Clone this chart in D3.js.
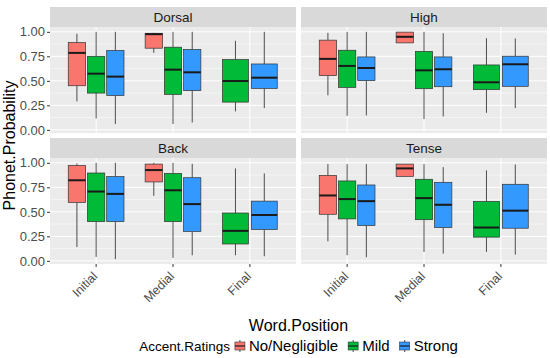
<!DOCTYPE html>
<html>
<head>
<meta charset="utf-8">
<script src="https://cdn.jsdelivr.net/npm/d3@7"></script>
<style>
  body { margin: 0; background: white; }
  svg { display: block; font-family: "Liberation Sans", Arial, sans-serif; }
</style>
</head>
<body>
<div id="main"></div>
<script>
const facets = ["Dorsal", "High", "Back", "Tense"];
const positions = ["Initial", "Medial", "Final"];
const ratings = ["No/Negligible", "Mild", "Strong"];
const colors = ["#F8766D", "#00BA38", "#3399FF"];
const yTicks = [0, 0.25, 0.5, 0.75, 1];

// [position, rating, min, q1, median, q3, max]
const dorsal = [
  ["Initial", "No/Negligible", 0.29, 0.45, 0.785, 0.89, 0.98],
  ["Initial", "Mild", 0.116, 0.375, 0.573, 0.75, 1.0],
  ["Initial", "Strong", 0.06, 0.35, 0.543, 0.81, 1.0],
  ["Medial", "No/Negligible", 0.785, 0.833, 0.976, 0.985, 0.99],
  ["Medial", "Mild", 0.06, 0.362, 0.614, 0.843, 1.0],
  ["Medial", "Strong", 0.075, 0.40, 0.587, 0.82, 1.0],
  ["Final", "Mild", 0.188, 0.283, 0.498, 0.717, 0.908],
  ["Final", "Strong", 0.222, 0.423, 0.532, 0.672, 1.0]
];
const high = [
  ["Initial", "No/Negligible", 0.352, 0.553, 0.724, 0.915, 0.99],
  ["Initial", "Mild", 0.143, 0.433, 0.652, 0.812, 1.0],
  ["Initial", "Strong", 0.147, 0.502, 0.631, 0.744, 1.0],
  ["Medial", "No/Negligible", 0.887, 0.887, 0.949, 0.997, 0.997],
  ["Medial", "Mild", 0.11, 0.42, 0.607, 0.80, 1.0],
  ["Medial", "Strong", 0.137, 0.44, 0.618, 0.744, 0.986],
  ["Final", "Mild", 0.174, 0.41, 0.485, 0.662, 0.935],
  ["Final", "Strong", 0.222, 0.444, 0.669, 0.751, 0.932]
];
const back = [
  ["Initial", "No/Negligible", 0.141, 0.596, 0.822, 0.973, 0.993],
  ["Initial", "Mild", 0.04, 0.40, 0.707, 0.896, 1.0],
  ["Initial", "Strong", 0.017, 0.40, 0.683, 0.859, 1.0],
  ["Medial", "No/Negligible", 0.663, 0.805, 0.926, 0.987, 1.0],
  ["Medial", "Mild", 0.03, 0.40, 0.72, 0.892, 1.0],
  ["Medial", "Strong", 0.057, 0.30, 0.579, 0.848, 0.99],
  ["Final", "Mild", 0.057, 0.172, 0.306, 0.488, 0.943],
  ["Final", "Strong", 0.047, 0.32, 0.468, 0.609, 0.892]
];
const tense = [
  ["Initial", "No/Negligible", 0.199, 0.475, 0.667, 0.872, 0.987],
  ["Initial", "Mild", 0.057, 0.428, 0.63, 0.815, 0.987],
  ["Initial", "Strong", 0.037, 0.36, 0.609, 0.774, 0.987],
  ["Medial", "No/Negligible", 0.862, 0.862, 0.943, 0.987, 0.987],
  ["Medial", "Mild", 0.091, 0.42, 0.64, 0.832, 0.987],
  ["Medial", "Strong", 0.074, 0.34, 0.572, 0.801, 0.956],
  ["Final", "Mild", 0.091, 0.242, 0.34, 0.606, 0.923],
  ["Final", "Strong", 0.064, 0.333, 0.512, 0.781, 0.983]
];
const facetData = [dorsal, high, back, tense];

const width = 550, height = 358;
const marginLeft = 50, marginTop = 7;
const panelW = 246, panelH = 106, stripH = 20, gap = 5;

const svg = d3.select("#main").append("svg")
  .attr("width", width).attr("height", height);

const all = facetData.flat();
const yMin = d3.min(all, d => d[2]), yMax = d3.max(all, d => d[6]);
const pad = (yMax - yMin) * 0.05;

const x = d3.scaleBand().domain(positions).range([0, panelW])
  .paddingInner(0).paddingOuter(0.1);
const y = d3.scaleLinear().domain([yMin - pad, yMax + pad]).range([panelH, 0]);
const color = d3.scaleOrdinal().domain(ratings).range(colors);

facets.forEach((name, fi) => {
  const col = fi % 2, row = Math.floor(fi / 2);
  const px = marginLeft + col * (panelW + gap);
  const py = marginTop + row * (stripH + panelH + gap) + stripH;

  // strip
  svg.append("rect").attr("x", px).attr("y", py - stripH)
    .attr("width", panelW).attr("height", stripH).attr("fill", "#d9d9d9");
  svg.append("text").attr("x", px + panelW / 2).attr("y", py - stripH / 2 + 4.5)
    .attr("text-anchor", "middle").attr("font-size", 13.5).attr("fill", "#1a1a1a")
    .text(name);

  const g = svg.append("g").attr("transform", `translate(${px},${py})`);
  g.append("rect").attr("width", panelW).attr("height", panelH).attr("fill", "#ebebeb");

  // minor grid
  const minor = d3.pairs(yTicks).map(p => (p[0] + p[1]) / 2);
  g.selectAll(".minor").data(minor).enter().append("line")
    .attr("x1", 0).attr("x2", panelW)
    .attr("y1", d => y(d)).attr("y2", d => y(d))
    .attr("stroke", "white").attr("stroke-width", 0.5);
  g.selectAll(".major").data(yTicks).enter().append("line")
    .attr("x1", 0).attr("x2", panelW)
    .attr("y1", d => y(d)).attr("y2", d => y(d))
    .attr("stroke", "white").attr("stroke-width", 1);
  g.selectAll(".xgrid").data(positions).enter().append("line")
    .attr("x1", d => x(d) + x.bandwidth() / 2).attr("x2", d => x(d) + x.bandwidth() / 2)
    .attr("y1", 0).attr("y2", panelH)
    .attr("stroke", "white").attr("stroke-width", 1);

  // boxes
  const data = facetData[fi];
  positions.forEach(pos => {
    const grp = data.filter(d => d[0] === pos);
    const dodge = x.bandwidth() * 0.75;
    const slot = dodge / grp.length;
    const start = x(pos) + x.bandwidth() / 2 - dodge / 2;
    grp.forEach((d, i) => {
      const cx = start + slot * (i + 0.5);
      const bw = slot * 0.9;
      g.append("line").attr("x1", cx).attr("x2", cx)
        .attr("y1", y(d[6])).attr("y2", y(d[5]))
        .attr("stroke", "#4d4d4d").attr("stroke-width", 1);
      g.append("line").attr("x1", cx).attr("x2", cx)
        .attr("y1", y(d[3])).attr("y2", y(d[2]))
        .attr("stroke", "#4d4d4d").attr("stroke-width", 1);
      g.append("rect").attr("x", cx - bw / 2).attr("y", y(d[5]))
        .attr("width", bw).attr("height", y(d[3]) - y(d[5]))
        .attr("fill", color(d[1])).attr("stroke", "#333").attr("stroke-width", 0.7);
      g.append("line").attr("x1", cx - bw / 2).attr("x2", cx + bw / 2)
        .attr("y1", y(d[4])).attr("y2", y(d[4]))
        .attr("stroke", "#1a1a1a").attr("stroke-width", 2);
    });
  });

  // y axis on left column
  if (col === 0) {
    const ya = g.append("g").call(d3.axisLeft(y).tickValues(yTicks)
      .tickFormat(d3.format(".2f")).tickSize(3).tickPadding(2));
    ya.select(".domain").remove();
    ya.selectAll("line").attr("stroke", "#333");
    ya.selectAll("text").attr("font-size", 13).attr("fill", "#4d4d4d")
      .attr("font-family", "Liberation Sans, Arial, sans-serif");
  }
  // x axis on bottom row
  if (row === 1) {
    const xa = g.append("g").attr("transform", `translate(0,${panelH})`)
      .call(d3.axisBottom(x).tickSize(3).tickPadding(2));
    xa.select(".domain").remove();
    xa.selectAll("line").attr("stroke", "#333");
    xa.selectAll("text").attr("font-size", 12.5).attr("fill", "#4d4d4d")
      .attr("font-family", "Liberation Sans, Arial, sans-serif")
      .attr("text-anchor", "end").attr("dy", null).attr("y", 0)
      .attr("transform", "translate(2,13) rotate(-45)");
  }
});

// axis titles
svg.append("text").attr("transform", `translate(15,${marginTop + stripH + (2 * panelH + stripH + gap) / 2}) rotate(-90)`)
  .attr("text-anchor", "middle").attr("font-size", 16).attr("fill", "black")
  .text("Phonet.Probability");
svg.append("text").attr("x", marginLeft + panelW + gap / 2).attr("y", 331)
  .attr("text-anchor", "middle").attr("font-size", 16).attr("fill", "black")
  .text("Word.Position");

// legend
const leg = svg.append("g");
const legTitle = leg.append("text").attr("x", 0).attr("y", 5).attr("font-size", 13.5)
  .attr("fill", "black").text("Accent.Ratings");
let cursor = legTitle.node().getComputedTextLength() + 4;
ratings.forEach((r, i) => {
  const k = leg.append("g").attr("transform", `translate(${cursor},0)`);
  k.append("line").attr("x1", 6).attr("x2", 6).attr("y1", -6).attr("y2", 6)
    .attr("stroke", "#4d4d4d");
  k.append("rect").attr("x", 1).attr("y", -4).attr("width", 10).attr("height", 8)
    .attr("fill", colors[i]).attr("stroke", "#333").attr("stroke-width", 0.6);
  k.append("line").attr("x1", 1).attr("x2", 11).attr("y1", 0).attr("y2", 0)
    .attr("stroke", "#1a1a1a").attr("stroke-width", 1.2);
  const t = leg.append("text").attr("x", cursor + 15).attr("y", 5).attr("font-size", 15)
    .attr("fill", "black").text(r);
  cursor += 15 + t.node().getComputedTextLength() + 9;
});
const legW = cursor - 9;
leg.attr("transform", `translate(${marginLeft + panelW + gap / 2 - legW / 2},346)`);
</script>
</body>
</html>
